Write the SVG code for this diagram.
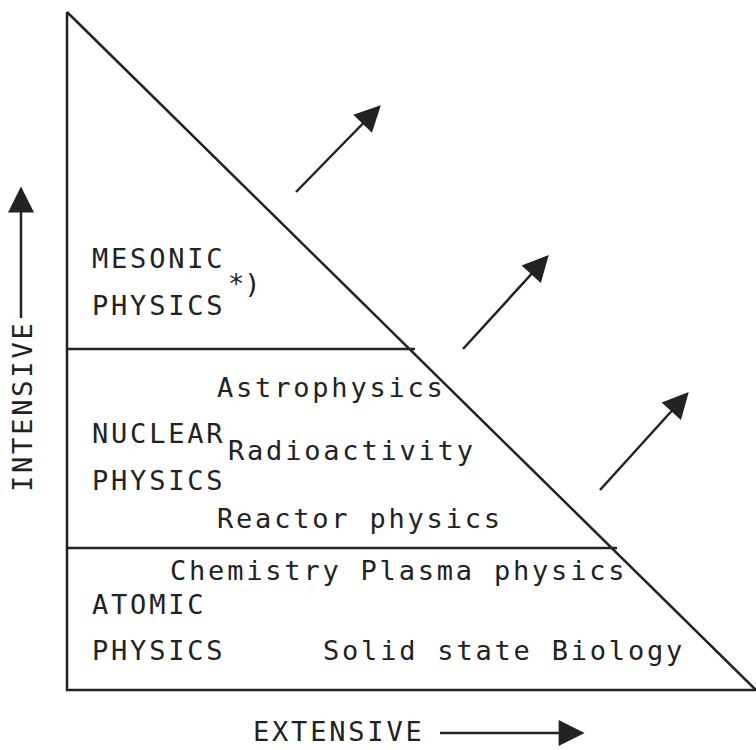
<svg xmlns="http://www.w3.org/2000/svg" width="756" height="750" viewBox="0 0 756 750">
<style>
.t{font-family:"DejaVu Sans Mono","Liberation Mono",monospace;font-size:27px;letter-spacing:2.8px;fill:#222}
.l{stroke:#222;stroke-width:2.5;fill:none}
.c{stroke:#222;stroke-width:2.5;marker-end:url(#ah)}
</style>
<defs>
<marker id="ah" viewBox="0 0 10 10" refX="9" refY="5" markerWidth="28" markerHeight="26" orient="auto" markerUnits="userSpaceOnUse">
<path d="M0,0 L10,5 L0,10 z" fill="#222"/>
</marker>
</defs>
<g id="frame">
<path class="l" d="M67,12 L67,690 L756,690 M67,12 L756,690 M67,349 L415,349 M67,548 L617,548"/>
</g>
<g id="connectors">
<line class="c" x1="296" y1="192" x2="379" y2="107"/>
<line class="c" x1="463" y1="349" x2="547" y2="257"/>
<line class="c" x1="600" y1="490" x2="687" y2="394"/>
<line class="c" x1="21" y1="318" x2="21" y2="189"/>
<line class="c" x1="440" y1="733" x2="582" y2="733"/>
</g>
<g id="mesonic">
<text class="t" x="92" y="268">MESONIC</text>
<text class="t" x="92" y="315">PHYSICS</text>
<text class="t" x="228" y="293" style="letter-spacing:0">*)</text>
</g>
<g id="nuclear">
<text class="t" x="217" y="397">Astrophysics</text>
<text class="t" x="92" y="443">NUCLEAR</text>
<text class="t" x="228" y="460">Radioactivity</text>
<text class="t" x="92" y="490">PHYSICS</text>
<text class="t" x="217" y="528">Reactor physics</text>
</g>
<g id="atomic">
<text class="t" x="170" y="580">Chemistry Plasma physics</text>
<text class="t" x="92" y="614">ATOMIC</text>
<text class="t" x="92" y="660">PHYSICS</text>
<text class="t" x="323" y="660">Solid state Biology</text>
</g>
<g id="axes">
<text class="t" x="253" y="741">EXTENSIVE</text>
<text class="t" transform="translate(32,492) rotate(-90)">INTENSIVE</text>
</g>
</svg>
